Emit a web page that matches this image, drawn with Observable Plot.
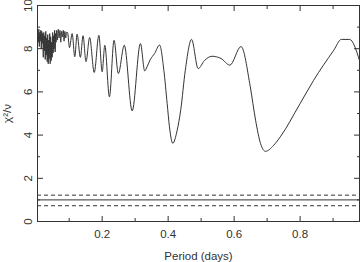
<!DOCTYPE html>
<html><head><meta charset="utf-8">
<script src="https://cdn.jsdelivr.net/npm/d3@7"></script>
<script src="https://cdn.jsdelivr.net/npm/@observablehq/plot@0.6"></script>
<style>body{margin:0;background:#fff}</style>
</head><body><div id="chart"></div>
<script>
// Period (days)
const period = [
  0.0050,0.0065,0.0080,0.0095,0.0110,0.0125,0.0140,0.0155,0.0170,0.0185,
  0.0200,0.0215,0.0230,0.0245,0.0260,0.0275,0.0290,0.0305,0.0320,0.0335,
  0.0350,0.0365,0.0380,0.0395,0.0410,0.0425,0.0440,0.0455,0.0470,0.0485,
  0.0500,0.0515,0.0530,0.0545,0.0560,0.0575,0.0590,0.0605,0.0620,0.0645,
  0.0670,0.0695,0.0720,0.0745,0.0770,0.0795,0.0820,0.0845,0.0870,0.0895,
  0.0920,0.0950,0.101,0.109,0.117,0.124,0.134,0.142,0.151,0.162,
  0.176,0.190,0.200,0.208,0.222,0.236,0.249,0.267,0.291,0.316,
  0.329,0.336,0.346,0.359,0.374,0.387,0.397,0.404,0.414,0.427,
  0.438,0.452,0.471,0.491,0.510,0.533,0.560,0.587,0.621,0.649,
  0.665,0.680,0.695,0.720,0.740,0.800,0.841,0.902,0.925,0.950,0.980
];
// reduced chi-square
const chi2 = [
  8.85,8.30,8.90,8.10,8.75,8.35,8.85,8.00,8.80,8.25,
  8.70,7.60,8.75,7.90,8.60,7.50,8.80,7.70,8.50,7.40,
  8.65,7.30,8.40,7.55,8.70,7.30,8.55,7.45,8.30,7.60,
  8.75,7.80,8.60,8.00,8.85,7.85,8.70,8.30,8.85,8.40,
  8.90,8.50,8.85,8.30,8.80,8.55,8.85,8.35,8.80,8.50,
  8.75,8.75,8.05,8.70,7.63,8.67,7.60,8.60,7.40,8.52,
  6.90,8.62,6.93,8.16,5.77,8.39,6.85,8.16,5.12,8.24,
  6.97,7.16,7.50,7.78,8.17,7.00,5.46,4.38,3.62,4.20,
  5.15,7.00,8.43,7.08,7.45,7.65,7.55,7.24,8.10,6.23,
  4.69,3.61,3.25,3.53,3.92,5.46,6.54,7.93,8.43,8.43,7.46
];
const levelSolid = [1.0];
const levelDashed = [1.22, 0.73];
const xMajor = [0.2, 0.4, 0.6, 0.8];
const xMinor = [0.1, 0.3, 0.5, 0.7, 0.9];
const yMajor = [0, 2, 4, 6, 8, 10];
const yMinor = [1, 3, 5, 7, 9];

const data = period.map((p, i) => ({p, v: chi2[i]}));
const ink = "#333";

const chart = Plot.plot({
  width: 360, height: 262,
  marginLeft: 37, marginRight: 1, marginTop: 5, marginBottom: 41,
  style: {fontFamily: "'Liberation Sans', Arial, sans-serif", fontSize: "11.5px", color: ink, background: "#fff"},
  x: {domain: [0.004, 0.98]},
  y: {domain: [0, 10]},
  marks: [
    Plot.ruleY(levelSolid, {stroke: ink, strokeWidth: 1}),
    Plot.ruleY(levelDashed, {stroke: ink, strokeWidth: 1, strokeDasharray: "4,3"}),
    Plot.line(data, {x: "p", y: "v", stroke: ink, strokeWidth: 1, curve: "monotone-x", clip: true}),
    // inward ticks on all four sides
    Plot.axisX({anchor: "bottom", ticks: xMajor, tickSize: -5, fill: "none", stroke: ink}),
    Plot.axisX({anchor: "bottom", ticks: xMinor, tickSize: -3, fill: "none", stroke: ink}),
    Plot.axisX({anchor: "top", ticks: xMajor, tickSize: -5, fill: "none", stroke: ink}),
    Plot.axisX({anchor: "top", ticks: xMinor, tickSize: -3, fill: "none", stroke: ink}),
    Plot.axisY({anchor: "left", ticks: yMajor, tickSize: -6, fill: "none", stroke: ink}),
    Plot.axisY({anchor: "left", ticks: yMinor, tickSize: -3, fill: "none", stroke: ink}),
    Plot.axisY({anchor: "right", ticks: yMajor, tickSize: -6, fill: "none", stroke: ink}),
    Plot.axisY({anchor: "right", ticks: yMinor, tickSize: -3, fill: "none", stroke: ink}),
    // labels
    Plot.axisX({anchor: "bottom", ticks: xMajor, tickSize: 0, tickPadding: 8, fill: ink,
      label: "Period (days)", labelAnchor: "center", labelArrow: "none", labelOffset: 38}),
    Plot.axisY({anchor: "left", ticks: yMajor, tickSize: 0, tickRotate: -90, tickPadding: 6, fill: ink,
      label: "χ²/ν", labelAnchor: "center", labelArrow: "none", labelOffset: 35}),
    Plot.frame({stroke: ink, strokeWidth: 1})
  ]
});
document.getElementById("chart").append(chart);
</script>
</body></html>
